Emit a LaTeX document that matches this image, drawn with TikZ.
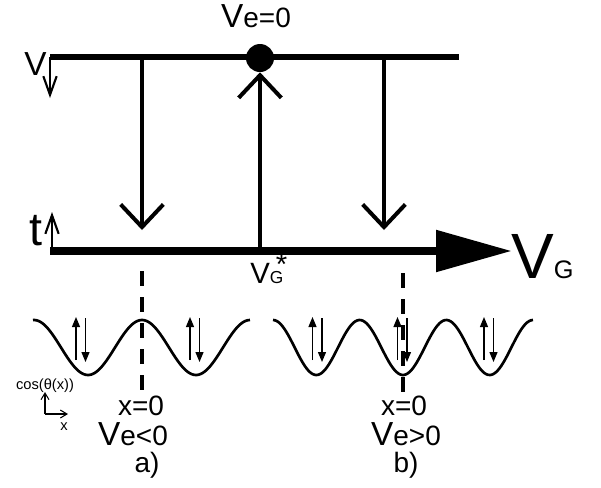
\documentclass[tikz,border=0pt]{standalone}
\usepackage{fontspec}
\setmainfont{Liberation Sans}
\usetikzlibrary{arrows.meta}

\newcommand{\vbig}{{\fontsize{25}{25}\selectfont V}}

\tikzset{
  topline/.style={line width=3.8pt},
  axisline/.style={line width=6.4pt,-{Triangle[length=57pt,width=30pt]}},
  bigarrow/.style={line width=3pt,-{Straight Barb[length=17pt,width=32pt]}},
  smallarrow/.style={line width=1.6pt,-{Straight Barb[length=14pt,width=10pt]}},
  spinarrow/.style={line width=0.9pt,-{Triangle[length=7.5pt,width=6pt]}},
  tinyarrow/.style={line width=0.8pt,-{Straight Barb[length=5pt,width=6pt]}},
  wave/.style={line width=2pt,smooth},
  zeroline/.style={line width=2.3pt,dash pattern=on 11.25pt off 8.25pt},
  dot/.style={circle,fill=black,inner sep=0pt,minimum size=21pt},
  lbl/.style={inner sep=0pt,font=\fontsize{21}{21}\selectfont},
}

\begin{document}
\begin{tikzpicture}[x=0.75pt,y=0.75pt,yscale=-1,xscale=1]
	\useasboundingbox (0,0) rectangle (601,487);
	
	%Top line and the point Ve=0
	\coordinate (topL) at (50,57);
	\coordinate (topR) at (459,57);
	\draw [topline] (topL) -- (topR);
	\node [dot] (ve0dot) at (260,58) {};
	
	%Bottom axis V_G
	\coordinate (axL) at (50,251);
	\coordinate (axR) at (512,251);
	\draw [axisline] (axL) -- (axR);
	
	%Small arrows at the left ends
	\coordinate (vTip) at (50,98);
	\coordinate (tTip) at (52,212);
	\draw [smallarrow] (topL) -- (vTip);
	\draw [smallarrow] (52,251) -- (tTip);
	
	%Vertical arrows between the lines
	\coordinate (leftTop) at (142,57);
	\coordinate (leftTip) at (142,230);
	\coordinate (rightTop) at (384,57);
	\coordinate (rightTip) at (384,230);
	\coordinate (vgStar) at (260,251);
	\draw [bigarrow] (leftTop) -- (leftTip);
	\draw [bigarrow] (rightTop) -- (rightTip);
	\draw [bigarrow] (vgStar) -- (ve0dot.south);
	
	%Dashed lines at x=0
	\draw [zeroline] (142,271) -- (142,392);
	\draw [zeroline] (403,273) -- (403,392);
	
	%Waves cos(theta(x))
	\draw [wave] plot [domain=33:250,samples=120] (\x,{347.5-27.5*cos(3.3333*(\x-142))});
	\draw [wave] plot [domain=273:533,samples=140] (\x,{347.5-27.5*cos(4.1537*(\x-273))});
	
	%Spin pairs in the wells
	\foreach \c in {81,195,317.5,402.5,489} {
		\draw [spinarrow] (\c-5,360) -- (\c-5,317);
		\draw [spinarrow] (\c+4.5,318) -- (\c+4.5,362);
	}
	
	%Small axes
	\coordinate (axO) at (45,414);
	\coordinate (axUp) at (45,392);
	\coordinate (axRt) at (68,414);
	\draw [tinyarrow] (axO) -- (axUp);
	\draw [tinyarrow] (axO) -- (axRt);
	
	% Text Node
	\node [lbl, anchor=base] (ve0) at (256,27) {\vbig e=0};
	% Text Node
	\node [inner sep=0pt, anchor=base west, font=\fontsize{25}{25}\selectfont] (vlab) at (24,75) {V};
	% Text Node
	\node [inner sep=0pt, anchor=base west, font=\fontsize{35}{35}\selectfont] (tlab) at (29,245) {t};
	% Text Node
	\node [inner sep=0pt, anchor=base west] (vg) at (511,278) {{\fontsize{48}{48}\selectfont V}{\fontsize{19}{19}\selectfont G}};
	% Text Node
	\node [inner sep=0pt, anchor=base west] (vgs) at (250,283) {{\fontsize{22}{22}\selectfont V}\rlap{\fontsize{22}{22}\selectfont\hspace{4.5pt}\raisebox{6.5pt}{*}}{\fontsize{13}{13}\selectfont G}};
	% Text Node
	\node [inner sep=0pt, anchor=base, font=\fontsize{11}{11}\selectfont] (coslab) at (45,389) {cos(θ(x))};
	% Text Node
	\node [inner sep=0pt, anchor=base, font=\fontsize{11}{11}\selectfont] (xlab) at (64,430) {x};
	% Text Node
	\node [lbl, anchor=base] (xa) at (141,415) {x=0};
	% Text Node
	\node [lbl, anchor=base] (vea) at (133,445) {\vbig e<0};
	% Text Node
	\node [lbl, anchor=base] (la) at (147,472) {a)};
	% Text Node
	\node [lbl, anchor=base] (xb) at (404,415) {x=0};
	% Text Node
	\node [lbl, anchor=base] (veb) at (406,445) {\vbig e>0};
	% Text Node
	\node [lbl, anchor=base] (lb) at (406,472) {b)};
	
\end{tikzpicture}
\end{document}
